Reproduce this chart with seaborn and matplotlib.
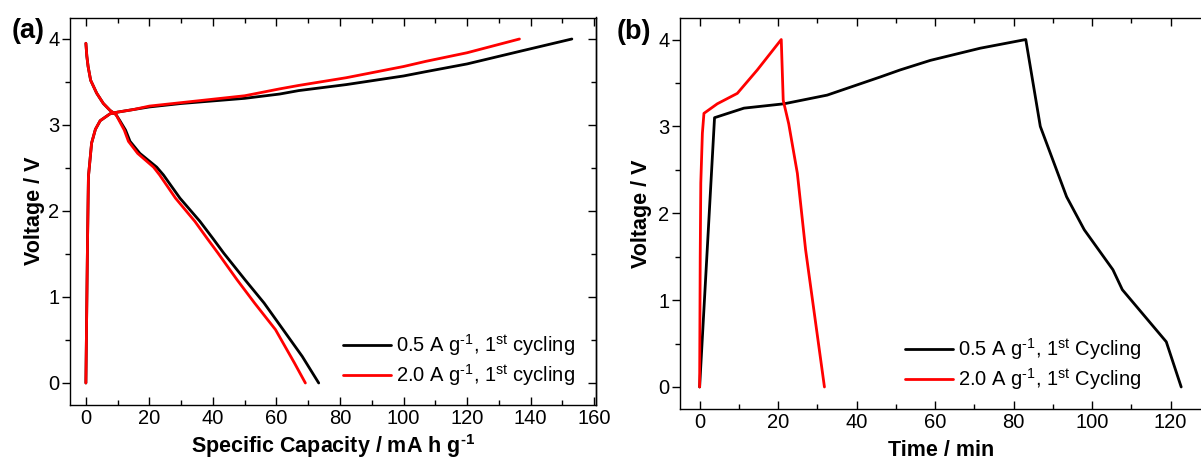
import matplotlib
matplotlib.use('Agg')
import matplotlib.pyplot as plt
from matplotlib.ticker import MultipleLocator
import seaborn as sns
import pandas as pd

# (a) charge / discharge profiles, capacity in mA h g-1, voltage in V
cap_05_chg = [0, 0.5, 0.8, 1.8, 3.0, 4.5, 7.6, 10, 15, 20, 30, 40, 50, 61, 67, 82, 100, 107, 120, 137, 153]
v_05_chg = [0, 1.6, 2.4, 2.79, 2.95, 3.05, 3.13, 3.15, 3.18, 3.21, 3.25, 3.28, 3.31, 3.36, 3.40, 3.47, 3.57, 3.62, 3.71, 3.86, 4.0]
cap_20_chg = [0, 0.5, 0.8, 1.8, 3.0, 4.5, 7.6, 10, 15, 20, 30, 40, 50, 61, 67, 82, 100, 107, 120, 136.5]
v_20_chg = [0, 1.6, 2.4, 2.79, 2.95, 3.05, 3.13, 3.15, 3.18, 3.22, 3.26, 3.30, 3.34, 3.42, 3.46, 3.55, 3.68, 3.74, 3.84, 4.0]

cap_05_dis = [0, 0.3, 0.7, 1.5, 3.4, 5.5, 7.6, 9.5, 10.7, 12.5, 13.9, 17, 22.3, 24.4, 29.6, 35.9, 40, 43.4, 50.1, 56.1, 62.1, 68.1, 73.3]
v_05_dis = [3.95, 3.8, 3.68, 3.52, 3.37, 3.25, 3.17, 3.12, 3.05, 2.94, 2.81, 2.67, 2.51, 2.42, 2.15, 1.88, 1.68, 1.51, 1.20, 0.93, 0.62, 0.31, 0.0]
cap_20_dis = [0, 0.3, 0.7, 1.5, 3.4, 5.5, 7.6, 9.5, 10.5, 12.1, 13.4, 16.3, 21.3, 23.2, 28.2, 34.3, 38.2, 41.6, 47.6, 53.1, 59.7, 65.7, 69.1]
v_20_dis = [3.95, 3.8, 3.68, 3.52, 3.37, 3.25, 3.17, 3.12, 3.05, 2.94, 2.81, 2.67, 2.51, 2.42, 2.15, 1.88, 1.68, 1.51, 1.20, 0.93, 0.62, 0.23, 0.0]

# (b) voltage vs time, minutes
t_05 = [0, 3.8, 11.3, 21.5, 32.5, 46.1, 51.1, 58.8, 71.5, 83.1, 86.8, 93.5, 98, 105.3, 107.7, 118.9, 122.7]
v_05_t = [0, 3.10, 3.21, 3.26, 3.36, 3.57, 3.65, 3.76, 3.90, 4.0, 3.0, 2.19, 1.81, 1.35, 1.12, 0.52, 0.0]
t_20 = [0, 0.15, 0.3, 0.7, 1.1, 4.5, 9.6, 14.7, 20.8, 21.3, 22.7, 24.9, 27.0, 31.8]
v_20_t = [0, 1.5, 2.35, 2.92, 3.15, 3.26, 3.38, 3.65, 4.0, 3.30, 3.03, 2.46, 1.58, 0.0]

labels_a = ['0.5 A g$^{\u20101}$, 1$^{st}$ cycling', '2.0 A g$^{\u20101}$, 1$^{st}$ cycling']
labels_b = ['0.5 A g$^{\u20101}$, 1$^{st}$ Cycling', '2.0 A g$^{\u20101}$, 1$^{st}$ Cycling']
colors = ['black', '#ff0000']

sns.set_theme(style="ticks")
plt.rcParams['font.family'] = ['Liberation Sans', 'DejaVu Sans']
plt.rcParams['mathtext.default'] = 'regular'
plt.rcParams['axes.linewidth'] = 1.0
for key in ('text.color', 'axes.labelcolor', 'axes.edgecolor', 'xtick.color', 'ytick.color'):
    plt.rcParams[key] = 'black'

df_a = pd.concat([
    pd.DataFrame({'capacity': cap_05_chg, 'voltage': v_05_chg, 'rate': labels_a[0], 'seg': 'c05'}),
    pd.DataFrame({'capacity': cap_05_dis, 'voltage': v_05_dis, 'rate': labels_a[0], 'seg': 'd05'}),
    pd.DataFrame({'capacity': cap_20_chg, 'voltage': v_20_chg, 'rate': labels_a[1], 'seg': 'c20'}),
    pd.DataFrame({'capacity': cap_20_dis, 'voltage': v_20_dis, 'rate': labels_a[1], 'seg': 'd20'}),
], ignore_index=True)
df_b = pd.concat([
    pd.DataFrame({'time': t_05, 'voltage': v_05_t, 'rate': labels_b[0]}),
    pd.DataFrame({'time': t_20, 'voltage': v_20_t, 'rate': labels_b[1]}),
], ignore_index=True)

fig = plt.figure(figsize=(12.01, 4.59), dpi=100)
ax1 = fig.add_axes([70 / 1201, 1 - 404.5 / 459, 526 / 1201, 387 / 459])
ax2 = fig.add_axes([680 / 1201, 1 - 408.7 / 459, 522 / 1201, 390.9 / 459])

sns.lineplot(data=df_a, x='capacity', y='voltage', hue='rate', units='seg', estimator=None,
             sort=False, palette=dict(zip(labels_a, colors)), linewidth=2, ax=ax1)
sns.lineplot(data=df_b, x='time', y='voltage', hue='rate', estimator=None,
             sort=False, palette=dict(zip(labels_b, colors)), linewidth=2, ax=ax2)

ax1.set_xlim(-5, 160.6)
ax2.set_xlim(-5, 128)
for ax in (ax1, ax2):
    ax.set_ylim(-0.25, 4.25)
    ax.xaxis.set_major_locator(MultipleLocator(20))
    ax.xaxis.set_minor_locator(MultipleLocator(10))
    ax.yaxis.set_major_locator(MultipleLocator(1))
    ax.yaxis.set_minor_locator(MultipleLocator(0.5))
    ax.tick_params(axis='x', which='both', direction='in', top=True, bottom=True, pad=3, labelsize=14.5)
    ax.tick_params(axis='y', which='both', direction='out', left=True, right=False, pad=2, labelsize=14.5)
    ax.tick_params(which='major', length=5.5, width=1)
    ax.tick_params(which='minor', length=3.3, width=1)
    ax.set_ylabel('Voltage / V', fontsize=15.5, fontweight='bold')

ax1.set_xlabel('Specific Capacity / mA h g$^{\u20101}$', fontsize=15.5, fontweight='bold')
ax2.set_xlabel('Time / min', fontsize=15.5, fontweight='bold')
ax1.yaxis.set_label_coords(-0.047, 0.5)
ax2.yaxis.set_label_coords(-0.054, 0.5)
ax1.xaxis.set_label_coords(0.5, -0.072)
ax2.xaxis.set_label_coords(0.5, -0.08)

# right-hand ticks of (a) point inwards
sec = ax1.secondary_yaxis('right')
sec.yaxis.set_major_locator(MultipleLocator(1))
sec.yaxis.set_minor_locator(MultipleLocator(0.5))
sec.tick_params(which='both', direction='in', labelright=False)
sec.tick_params(which='major', length=5.5, width=1)
sec.tick_params(which='minor', length=3.3, width=1)

for ax, x0, y0 in ((ax1, 343, 332), (ax2, 905, 336)):
    h, l = ax.get_legend_handles_labels()
    ax.legend(h, l, frameon=False, fontsize=14.5, loc='upper left',
              bbox_to_anchor=(x0 / 1201, 1 - y0 / 459), bbox_transform=fig.transFigure,
              borderpad=0, borderaxespad=0, handlelength=2.4, handletextpad=0.25,
              labelspacing=0.2)

fig.text(12 / 1201, 1 - 31 / 459, '(a)', fontsize=19.5, fontweight='bold', va='center', ha='left')
fig.text(617 / 1201, 1 - 32 / 459, '(b)', fontsize=19.5, fontweight='bold', va='center', ha='left')

fig.savefig('out.png', dpi=100)
plt.close(fig)
